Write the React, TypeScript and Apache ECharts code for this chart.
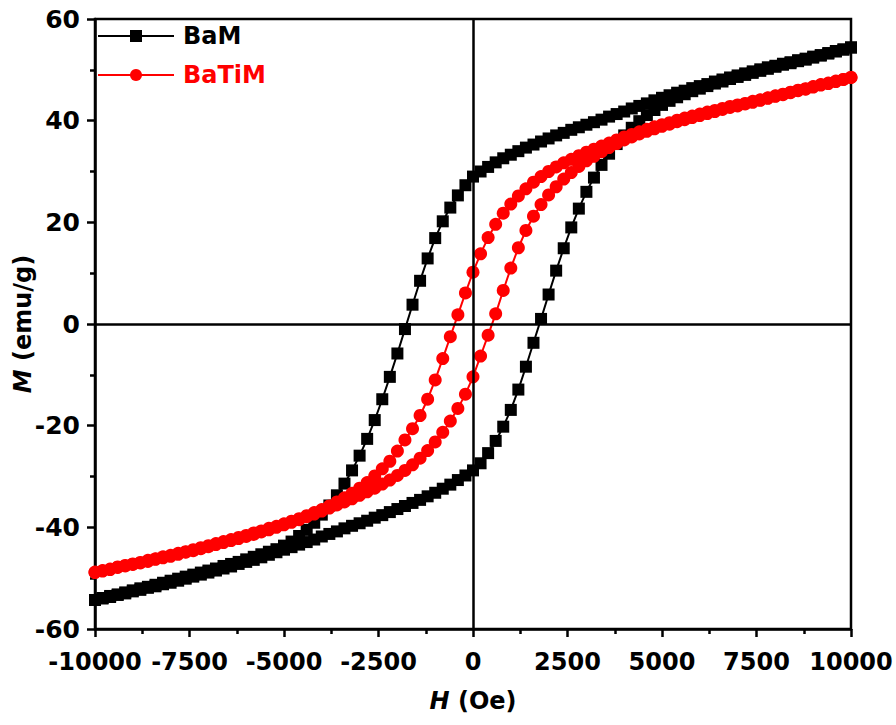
import React, { useEffect, useRef } from "react";
import * as echarts from "echarts";

const H_FIELD = [
  -10000, -9800, -9600, -9400, -9200, -9000, -8800, -8600, -8400, -8200,
  -8000, -7800, -7600, -7400, -7200, -7000, -6800, -6600, -6400, -6200,
  -6000, -5800, -5600, -5400, -5200, -5000, -4800, -4600, -4400, -4200,
  -4000, -3800, -3600, -3400, -3200, -3000, -2800, -2600, -2400, -2200,
  -2000, -1800, -1600, -1400, -1200, -1000, -800, -600, -400, -200,
  0, 200, 400, 600, 800, 1000, 1200, 1400, 1600, 1800,
  2000, 2200, 2400, 2600, 2800, 3000, 3200, 3400, 3600, 3800,
  4000, 4200, 4400, 4600, 4800, 5000, 5200, 5400, 5600, 5800,
  6000, 6200, 6400, 6600, 6800, 7000, 7200, 7400, 7600, 7800,
  8000, 8200, 8400, 8600, 8800, 9000, 9200, 9400, 9600, 9800,
  10000,
];

// descending-field branch (values listed at H_FIELD order)
const BAM_UPPER = [
  -54.3, -53.9, -53.5, -53.2, -52.8, -52.4, -52.0, -51.7, -51.3, -50.9,
  -50.5, -50.1, -49.7, -49.3, -48.9, -48.5, -48.1, -47.6, -47.2, -46.8,
  -46.3, -45.8, -45.3, -44.8, -44.3, -43.6, -42.8, -41.7, -40.5, -39.1,
  -37.5, -35.7, -33.7, -31.4, -28.8, -25.9, -22.6, -18.9, -14.8, -10.4,
  -5.8, -1.0, 3.8, 8.5, 12.9, 16.9, 20.2, 22.9, 25.3, 27.3,
  29.0, 30.0, 30.9, 31.8, 32.6, 33.3, 34.0, 34.7, 35.3, 35.9,
  36.5, 37.1, 37.6, 38.2, 38.7, 39.2, 39.7, 40.2, 40.8, 41.3,
  41.8, 42.4, 42.9, 43.4, 44.0, 44.5, 45.0, 45.5, 45.9, 46.4,
  46.8, 47.2, 47.7, 48.1, 48.5, 48.9, 49.3, 49.7, 50.1, 50.5,
  50.8, 51.2, 51.5, 51.9, 52.2, 52.6, 52.9, 53.3, 53.7, 54.0,
  54.4,
];

// ascending-field branch
const BAM_LOWER = [
  -54.3, -54.0, -53.7, -53.3, -53.0, -52.6, -52.3, -51.9, -51.6, -51.2,
  -50.9, -50.5, -50.1, -49.7, -49.3, -48.9, -48.5, -48.1, -47.7, -47.2,
  -46.8, -46.4, -45.9, -45.4, -44.9, -44.4, -43.9, -43.4, -42.9, -42.4,
  -41.8, -41.3, -40.8, -40.2, -39.7, -39.2, -38.7, -38.1, -37.6, -37.0,
  -36.4, -35.8, -35.2, -34.6, -33.9, -33.2, -32.4, -31.6, -30.7, -29.8,
  -28.8, -27.4, -25.4, -23.0, -20.2, -16.9, -12.9, -8.4, -3.7, 1.0,
  5.8, 10.5, 14.9, 19.0, 22.7, 26.0, 28.8, 31.3, 33.5, 35.4,
  37.1, 38.6, 39.9, 41.1, 42.1, 43.1, 43.9, 44.6, 45.2, 45.8,
  46.3, 46.8, 47.3, 47.7, 48.2, 48.6, 49.0, 49.4, 49.8, 50.2,
  50.6, 51.0, 51.3, 51.7, 52.0, 52.4, 52.8, 53.2, 53.6, 54.0,
  54.4,
];

const BATIM_UPPER = [
  -48.8, -48.5, -48.2, -47.8, -47.5, -47.2, -46.9, -46.5, -46.2, -45.8,
  -45.5, -45.1, -44.8, -44.4, -44.0, -43.6, -43.2, -42.8, -42.4, -42.0,
  -41.6, -41.1, -40.7, -40.2, -39.8, -39.3, -38.8, -38.3, -37.7, -37.1,
  -36.5, -35.8, -35.0, -34.2, -33.3, -32.3, -31.2, -29.9, -28.5, -27.0,
  -25.0, -22.8, -20.6, -18.0, -14.8, -11.0, -6.8, -2.5, 1.8, 6.1,
  10.2, 13.8, 17.0, 19.6, 21.8, 23.6, 25.2, 26.6, 27.9, 29.0,
  30.0, 30.9, 31.7, 32.4, 33.1, 33.8, 34.4, 35.0, 35.6, 36.2,
  36.8, 37.3, 37.8, 38.3, 38.8, 39.2, 39.6, 40.1, 40.5, 40.9,
  41.3, 41.7, 42.0, 42.4, 42.8, 43.1, 43.4, 43.8, 44.1, 44.5,
  44.9, 45.2, 45.6, 46.0, 46.3, 46.7, 47.1, 47.4, 47.8, 48.1,
  48.5,
];

const BATIM_LOWER = [
  -48.9, -48.6, -48.3, -47.9, -47.6, -47.3, -47.0, -46.7, -46.3, -46.0,
  -45.7, -45.3, -44.9, -44.6, -44.2, -43.8, -43.4, -43.0, -42.6, -42.2,
  -41.8, -41.4, -40.9, -40.5, -40.0, -39.5, -39.0, -38.5, -37.9, -37.4,
  -36.8, -36.2, -35.6, -35.0, -34.4, -33.7, -33.0, -32.3, -31.5, -30.7,
  -29.8, -28.8, -27.7, -26.4, -24.9, -23.2, -21.3, -19.1, -16.6, -13.8,
  -10.4, -6.3, -2.2, 2.0, 6.6, 11.0, 15.0, 18.4, 21.2, 23.5,
  25.4, 27.0, 28.5, 29.8, 31.0, 32.1, 33.0, 33.9, 34.7, 35.5,
  36.2, 36.8, 37.4, 37.9, 38.4, 38.9, 39.3, 39.8, 40.2, 40.6,
  41.0, 41.4, 41.8, 42.2, 42.6, 42.9, 43.3, 43.6, 44.0, 44.4,
  44.8, 45.1, 45.5, 45.9, 46.2, 46.6, 47.0, 47.3, 47.7, 48.1,
  48.5,
];

const SERIES_NAMES = ["BaM", "BaTiM"];
const X_TICKS = { min: -10000, max: 10000, interval: 2500 };
const Y_TICKS = { min: -60, max: 60, interval: 20 };

function loop(upper: number[], lower: number[]): number[][] {
  const pts: number[][] = [];
  for (let i = H_FIELD.length - 1; i >= 0; i--) pts.push([H_FIELD[i], upper[i]]);
  for (let i = 0; i < H_FIELD.length; i++) pts.push([H_FIELD[i], lower[i]]);
  return pts;
}

const FONT = "DejaVu Sans";

export default function App() {
  const ref = useRef<HTMLDivElement>(null);
  useEffect(() => {
    document.body.style.margin = "0";
    if (!ref.current) return;
    const chart = echarts.init(ref.current, null, { renderer: "svg" });
    const axisCommon = {
      axisLine: { show: true, onZero: false, lineStyle: { color: "#000", width: 2.5 } },
      axisTick: { show: true, inside: false, length: 8, lineStyle: { color: "#000", width: 2.5 } },
      minorTick: { show: true, splitNumber: 2, length: 5, lineStyle: { color: "#000", width: 2.5 } },
      splitLine: { show: false },
      axisLabel: {
        color: "#000",
        fontSize: 24,
        fontWeight: "bold",
        fontFamily: FONT,
        formatter: (v: number) => String(v),
      },
      nameMoveOverlap: false,
      nameTextStyle: {
        color: "#000",
        fontSize: 24,
        fontWeight: "bold",
        fontFamily: FONT,
        rich: {
          i: { fontSize: 24, fontWeight: "bold", fontStyle: "italic", fontFamily: FONT, color: "#000" },
        },
      },
    };
    chart.setOption({
      animation: false,
      backgroundColor: "#fff",
      grid: {
        left: 95,
        top: 19,
        width: 756,
        height: 610,
        containLabel: false,
        outerBoundsMode: "none",
        show: true,
        borderColor: "#000",
        borderWidth: 2.5,
        backgroundColor: "transparent",
      },
      legend: {
        orient: "vertical",
        left: 97,
        top: 24,
        padding: 0,
        itemWidth: 76,
        itemHeight: 15,
        itemGap: 15,
        data: [
          { name: SERIES_NAMES[0], textStyle: { color: "#000" } },
          { name: SERIES_NAMES[1], textStyle: { color: "#ff0000" } },
        ],
        textStyle: { fontSize: 24, fontWeight: "bold", fontFamily: FONT, lineHeight: 24, padding: [0, 0, 0, 4] },
      },
      xAxis: {
        type: "value",
        ...X_TICKS,
        ...axisCommon,
        axisLabel: { ...axisCommon.axisLabel, margin: 21 },
        name: "{i|H} (Oe)",
        nameLocation: "middle",
        nameGap: 60,
      },
      yAxis: {
        type: "value",
        ...Y_TICKS,
        ...axisCommon,
        axisLabel: { ...axisCommon.axisLabel, fontSize: 25, margin: 15 },
        name: "{i|M} (emu/g)",
        nameLocation: "middle",
        nameRotate: 90,
        nameGap: 60,
      },
      series: [
        {
          name: SERIES_NAMES[0],
          type: "line",
          data: loop(BAM_UPPER, BAM_LOWER),
          symbol: "rect",
          symbolSize: 12,
          showAllSymbol: true,
          lineStyle: { color: "#000", width: 2 },
          itemStyle: { color: "#000" },
          markLine: {
            silent: true,
            symbol: "none",
            label: { show: false },
            lineStyle: { color: "#000", width: 2.5, type: "solid" },
            data: [{ xAxis: 0 }, { yAxis: 0 }],
          },
        },
        {
          name: SERIES_NAMES[1],
          type: "line",
          data: loop(BATIM_UPPER, BATIM_LOWER),
          symbol: "circle",
          symbolSize: 13,
          showAllSymbol: true,
          lineStyle: { color: "#ff0000", width: 2 },
          itemStyle: { color: "#ff0000" },
        },
      ],
    });
    return () => chart.dispose();
  }, []);
  return <div ref={ref} style={{ width: 896, height: 725 }} />;
}
